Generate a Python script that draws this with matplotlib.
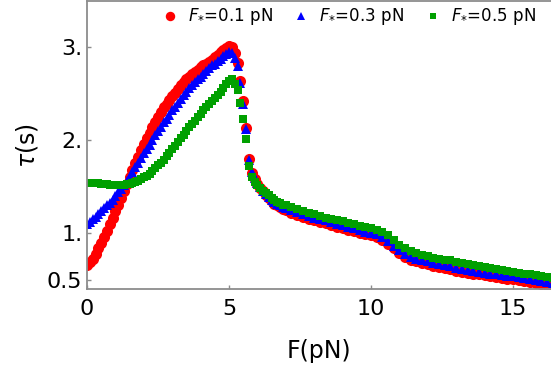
import numpy as np
import matplotlib
matplotlib.use("Agg")
import matplotlib.pyplot as plt

# force grid (pN)
F_lo = np.round(np.arange(0.0, 7.01, 0.1), 2)
F_hi = np.round(np.arange(7.2, 16.41, 0.2), 2)

tau_01_lo = [0.66, 0.69, 0.73, 0.78, 0.84, 0.90, 0.96, 1.03, 1.10, 1.17,
             1.24, 1.31, 1.38, 1.45, 1.53, 1.61, 1.68, 1.75, 1.82, 1.89,
             1.96, 2.02, 2.08, 2.14, 2.19, 2.25, 2.30, 2.35, 2.39, 2.43,
             2.47, 2.51, 2.55, 2.59, 2.62, 2.65, 2.68, 2.71, 2.73, 2.75,
             2.78, 2.80, 2.82, 2.84, 2.86, 2.89, 2.91, 2.94, 2.97, 2.99,
             3.01, 3.00, 2.93, 2.83, 2.63, 2.42, 2.13, 1.80, 1.65, 1.58,
             1.53, 1.49, 1.45, 1.41, 1.38, 1.35, 1.32, 1.30, 1.28, 1.26,
             1.25]
tau_01_hi = [1.22, 1.20, 1.18, 1.16, 1.14, 1.12, 1.11, 1.09, 1.07, 1.06,
             1.04, 1.03, 1.01, 0.99, 0.98, 0.96, 0.93, 0.89, 0.84, 0.79,
             0.75, 0.72, 0.70, 0.68, 0.67, 0.65, 0.64, 0.63, 0.62, 0.60,
             0.59, 0.58, 0.57, 0.56, 0.55, 0.54, 0.53, 0.52, 0.51, 0.51,
             0.50, 0.49, 0.48, 0.47, 0.46, 0.45, 0.44]

tau_03_lo = [1.10, 1.12, 1.15, 1.18, 1.21, 1.24, 1.27, 1.30, 1.33, 1.36,
             1.40, 1.44, 1.48, 1.52, 1.56, 1.61, 1.66, 1.71, 1.76, 1.81,
             1.86, 1.91, 1.95, 2.00, 2.05, 2.10, 2.14, 2.19, 2.23, 2.27,
             2.32, 2.36, 2.40, 2.44, 2.48, 2.52, 2.56, 2.59, 2.62, 2.65,
             2.68, 2.71, 2.74, 2.77, 2.80, 2.82, 2.85, 2.87, 2.90, 2.92,
             2.94, 2.93, 2.88, 2.79, 2.61, 2.39, 2.12, 1.79, 1.66, 1.59,
             1.54, 1.50, 1.46, 1.42, 1.39, 1.36, 1.34, 1.32, 1.30, 1.28,
             1.27]
tau_03_hi = [1.25, 1.23, 1.21, 1.19, 1.17, 1.15, 1.14, 1.12, 1.10, 1.09,
             1.07, 1.06, 1.04, 1.02, 1.01, 0.99, 0.96, 0.92, 0.87, 0.82,
             0.78, 0.75, 0.73, 0.71, 0.70, 0.68, 0.67, 0.66, 0.65, 0.63,
             0.62, 0.61, 0.60, 0.59, 0.58, 0.57, 0.56, 0.55, 0.54, 0.54,
             0.53, 0.52, 0.51, 0.50, 0.49, 0.48, 0.47]

tau_05_lo = [1.54, 1.54, 1.54, 1.54, 1.54, 1.53, 1.53, 1.53, 1.52, 1.52,
             1.52, 1.52, 1.52, 1.52, 1.53, 1.53, 1.54, 1.55, 1.56, 1.58,
             1.60, 1.62, 1.64, 1.67, 1.70, 1.73, 1.76, 1.79, 1.83, 1.86,
             1.90, 1.94, 1.98, 2.02, 2.06, 2.10, 2.14, 2.17, 2.21, 2.25,
             2.28, 2.32, 2.35, 2.39, 2.42, 2.45, 2.48, 2.52, 2.56, 2.60,
             2.63, 2.65, 2.60, 2.54, 2.40, 2.23, 2.01, 1.72, 1.61, 1.55,
             1.52, 1.49, 1.46, 1.43, 1.41, 1.38, 1.36, 1.34, 1.33, 1.31,
             1.30]
tau_05_hi = [1.28, 1.26, 1.24, 1.22, 1.21, 1.19, 1.17, 1.16, 1.14, 1.13,
             1.11, 1.10, 1.08, 1.07, 1.06, 1.04, 1.02, 0.98, 0.93, 0.88,
             0.84, 0.81, 0.79, 0.77, 0.76, 0.74, 0.73, 0.72, 0.71, 0.69,
             0.68, 0.67, 0.66, 0.65, 0.64, 0.63, 0.62, 0.61, 0.60, 0.59,
             0.58, 0.57, 0.56, 0.55, 0.54, 0.53, 0.52]

F = np.concatenate([F_lo, F_hi])
series = [
    (np.concatenate([tau_01_lo, tau_01_hi]), 'o', '#ff0000', 8.0, r'$F_{*}$=0.1 pN'),
    (np.concatenate([tau_03_lo, tau_03_hi]), '^', '#0000ff', 6.6, r'$F_{*}$=0.3 pN'),
    (np.concatenate([tau_05_lo, tau_05_hi]), 's', '#00a000', 5.3, r'$F_{*}$=0.5 pN'),
]

plt.rcParams['mathtext.fontset'] = 'dejavusans'
fig = plt.figure(figsize=(5.51, 3.72), dpi=100)
ax = fig.add_axes([0.158, 0.222, 0.842, 0.775])

for tau, m, c, ms, lab in series:
    ax.plot(F, tau, linestyle='none', marker=m, color=c, markersize=ms,
            markeredgewidth=0, label=lab)

ax.set_xlim(0, 16.34)
ax.set_ylim(0.40, 3.49)
ax.set_xticks([0, 5, 10, 15])
ax.set_xticklabels(['0', '5', '10', '15'])
ax.set_yticks([0.5, 1, 2, 3])
ax.set_yticklabels(['0.5', '1.', '2.', '3.'])

for side in ['left', 'bottom', 'top']:
    ax.spines[side].set_color('#8c8c8c')
    ax.spines[side].set_linewidth(1.3)
ax.spines['right'].set_visible(False)
ax.tick_params(direction='in', length=3, width=1, color='#8c8c8c', labelsize=16)
ax.tick_params(axis='x', pad=7)
ax.tick_params(axis='y', pad=3.5)

ax.set_xlabel('F(pN)', fontsize=17, labelpad=14)
ax.set_ylabel(r'$\tau$(s)', fontsize=17, labelpad=5)

ax.legend(loc='center right', bbox_to_anchor=(0.982, 0.945), ncol=3,
          frameon=False, fontsize=12, handletextpad=0.6, columnspacing=1.2,
          borderaxespad=0.0, handlelength=1.0, markerscale=0.85)

fig.savefig('out.png', dpi=100)
